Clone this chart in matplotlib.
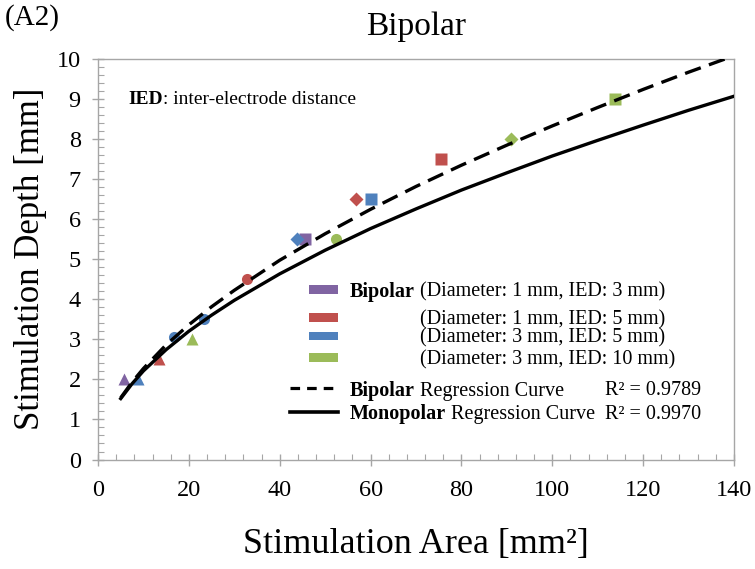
import numpy as np
import matplotlib.pyplot as plt
from matplotlib.patches import Rectangle
from matplotlib.lines import Line2D

plt.rcParams['font.family'] = ['Liberation Serif', 'DejaVu Serif']

# stimulation area [mm^2], depth [mm], marker level (1..4) for each electrode set
bip_d1_ied3_x = [5.7, 45.6]
bip_d1_ied3_y = [2.0, 5.5]
bip_d1_ied3_lv = [1, 4]

bip_d1_ied5_x = [13.5, 32.7, 56.9, 75.6]
bip_d1_ied5_y = [2.5, 4.5, 6.5, 7.5]
bip_d1_ied5_lv = [1, 2, 3, 4]

bip_d3_ied5_x = [8.7, 16.7, 23.3, 43.7, 60.2]
bip_d3_ied5_y = [2.0, 3.05, 3.5, 5.5, 6.5]
bip_d3_ied5_lv = [1, 2, 2, 3, 4]

bip_d3_ied10_x = [20.8, 52.4, 90.9, 113.9]
bip_d3_ied10_y = [3.0, 5.5, 8.0, 9.0]
bip_d3_ied10_lv = [1, 2, 3, 4]

# regression curves
curve_x = [5, 7.5, 10, 15, 20, 25, 30, 40, 50, 60, 70, 80, 90, 100, 110, 120, 130, 140]
bipolar_fit = [1.54, 1.93, 2.27, 2.86, 3.36, 3.81, 4.22, 4.97, 5.63, 6.24, 6.81, 7.34,
               7.84, 8.32, 8.78, 9.23, 9.66, 10.07]
monopolar_fit = [1.52, 1.89, 2.21, 2.74, 3.20, 3.60, 3.97, 4.63, 5.22, 5.76, 6.25, 6.72,
                 7.15, 7.57, 7.96, 8.34, 8.71, 9.06]

r2_bipolar = 0.9789
r2_monopolar = 0.9970

series_labels = ['(Diameter: 1 mm, IED: 3 mm)', '(Diameter: 1 mm, IED: 5 mm)',
                 '(Diameter: 3 mm, IED: 5 mm)', '(Diameter: 3 mm, IED: 10 mm)']

colors = ['#8064A2', '#C0504D', '#4F81BD', '#9BBB59']
level_marker = {1: '^', 2: 'o', 3: 'D', 4: 's'}
level_size = {1: 9, 2: 8, 3: 7, 4: 8}

fig = plt.figure(figsize=(7.55, 5.69), dpi=100)
ax = fig.add_axes([0.1298, 0.1924, 0.8424, 0.7047])

series = [(bip_d1_ied3_x, bip_d1_ied3_y, bip_d1_ied3_lv),
          (bip_d1_ied5_x, bip_d1_ied5_y, bip_d1_ied5_lv),
          (bip_d3_ied5_x, bip_d3_ied5_y, bip_d3_ied5_lv),
          (bip_d3_ied10_x, bip_d3_ied10_y, bip_d3_ied10_lv)]
for (xs, ys, lvs), c in zip(series, colors):
    for x, y, lv in zip(xs, ys, lvs):
        ax.plot(x, y, linestyle='none', marker=level_marker[lv], ms=level_size[lv],
                color=c, mec='none', zorder=2)

ax.plot(curve_x, bipolar_fit, color='black', lw=2.4, ls=(0, (5, 2.6)), zorder=3)
ax.plot(curve_x, monopolar_fit, color='black', lw=2.4, zorder=3)

ax.set_xlim(0, 140)
ax.set_ylim(0, 10)
ax.set_xticks(np.arange(0, 141, 20))
ax.set_yticks(np.arange(0, 11, 1))
ax.set_xticks(np.arange(0, 141, 4), minor=True)
ax.set_yticks(np.arange(0, 10.01, 0.2), minor=True)

gray = '#a6a6a6'
for s in ax.spines.values():
    s.set_color(gray)
    s.set_linewidth(1.0)
ax.tick_params(which='major', direction='inout', length=9, color=gray, labelsize=17.5,
               width=1.0)
ax.tick_params(axis='x', which='major', pad=10)
ax.tick_params(axis='y', which='major', pad=8)
ax.tick_params(which='minor', direction='in', length=4, color=gray, width=0.8)

ax.set_xlabel('Stimulation Area [mm²]', fontsize=26, labelpad=20)
ax.set_ylabel('Stimulation Depth [mm]', fontsize=25, labelpad=7)
ax.set_title('Bipolar', fontsize=24, pad=17)
fig.text(0.006, 0.992, '(A2)', fontsize=21, va='top', ha='left')


def bold_then_plain(x, y, bold, plain, size):
    t = ax.text(x, y, bold, transform=ax.transAxes, fontsize=size, fontweight='bold',
                va='center', ha='left')
    ax.annotate(plain, xy=(1, 0), xycoords=t, fontsize=size, va='bottom', ha='left')
    return t


bold_then_plain(0.047, 0.897, 'IED', ': inter-electrode distance', 14)

# legend
lsize = 14.5
patch_rows = [0.425, 0.355, 0.308, 0.254]
text_rows = [0.418, 0.348, 0.303, 0.248]
for c, py, ty, lab in zip(colors, patch_rows, text_rows, series_labels):
    ax.add_patch(Rectangle((0.332, py - 0.011), 0.045, 0.022, transform=ax.transAxes,
                           facecolor=c, edgecolor='none'))
    ax.text(0.506, ty, lab, transform=ax.transAxes, fontsize=lsize, va='center',
            ha='left')
ax.text(0.396, text_rows[0], 'Bipolar', transform=ax.transAxes, fontsize=lsize,
        fontweight='bold', va='center', ha='left')

ax.add_line(Line2D([0.302, 0.377], [0.178, 0.178], transform=ax.transAxes,
                   color='black', lw=2.3, ls=(0, (3, 2.2))))
ax.add_line(Line2D([0.302, 0.377], [0.119, 0.119], transform=ax.transAxes,
                   color='black', lw=2.6))
bold_then_plain(0.396, 0.172, 'Bipolar', ' Regression Curve', lsize)
bold_then_plain(0.396, 0.113, 'Monopolar', ' Regression Curve', lsize)
ax.text(0.797, 0.172, 'R² = %.4f' % r2_bipolar, transform=ax.transAxes,
        fontsize=lsize, va='center', ha='left')
ax.text(0.797, 0.113, 'R² = %.4f' % r2_monopolar, transform=ax.transAxes,
        fontsize=lsize, va='center', ha='left')

fig.savefig('out.png', dpi=100)
